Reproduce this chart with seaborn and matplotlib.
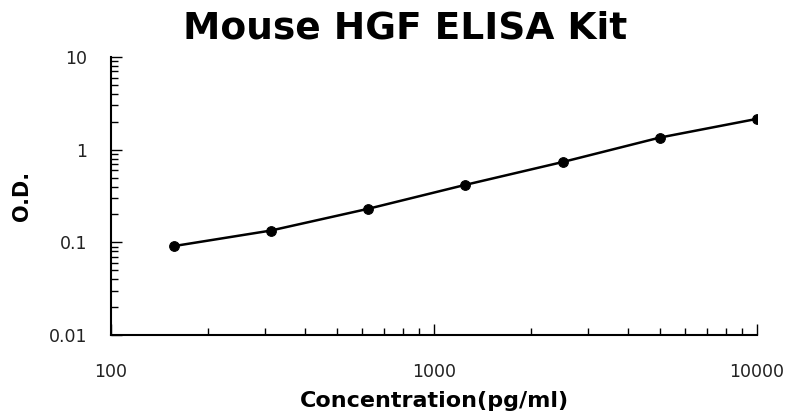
import numpy as np
import pandas as pd
import seaborn as sns
import matplotlib
matplotlib.use("Agg")
import matplotlib.pyplot as plt
from matplotlib.ticker import LogLocator, NullFormatter, FixedLocator, FixedFormatter


concentration = [156.25, 312.5, 625, 1250, 2500, 5000, 10000]
od = [0.091, 0.134, 0.230, 0.417, 0.735, 1.35, 2.15]

x_ticks = [100, 1000, 10000]
x_tick_labels = ['100', '1000', '10000']
y_ticks = [0.01, 0.1, 1, 10]
y_tick_labels = ['0.01', '0.1', '1', '10']

df = pd.DataFrame({'conc': concentration, 'od': od})

sns.set_theme(style="white")
plt.rcParams['font.family'] = ['DejaVu Sans']
plt.rcParams['text.color'] = 'black'
plt.rcParams['axes.labelcolor'] = 'black'

fig = plt.figure(figsize=(7.89, 4.11), dpi=100)
ax = fig.add_axes([111 / 789, 76 / 411, (757 - 111) / 789, (335 - 57) / 411])

sns.lineplot(data=df, x='conc', y='od', ax=ax, color='black', linewidth=1.8,
             marker='o', markersize=7, markeredgecolor='black')

ax.set_xscale('log')
ax.set_yscale('log')
ax.set_xlim(100, 10000)
ax.set_ylim(0.01, 10)

ax.xaxis.set_major_locator(FixedLocator(x_ticks))
ax.xaxis.set_major_formatter(FixedFormatter(x_tick_labels))
ax.yaxis.set_major_locator(FixedLocator(y_ticks))
ax.yaxis.set_major_formatter(FixedFormatter(y_tick_labels))
ax.xaxis.set_minor_locator(LogLocator(base=10, subs=np.arange(2, 10)))
ax.yaxis.set_minor_locator(LogLocator(base=10, subs=np.arange(2, 10)))
ax.xaxis.set_minor_formatter(NullFormatter())
ax.yaxis.set_minor_formatter(NullFormatter())

ax.tick_params(axis='both', which='major', direction='in', length=8, width=1,
               labelsize=12.5, colors='black')
ax.tick_params(axis='both', which='minor', direction='in', length=5, width=1,
               colors='black')
ax.tick_params(axis='x', which='both', bottom=True, pad=20)
ax.tick_params(axis='y', which='both', left=True, pad=17)
for lab in ax.get_xticklabels() + ax.get_yticklabels():
    lab.set_color('#222222')

for s in ['top', 'right']:
    ax.spines[s].set_visible(False)
for s in ['left', 'bottom']:
    ax.spines[s].set_color('black')
    ax.spines[s].set_linewidth(1.5)

ax.set_xlabel('Concentration(pg/ml)', fontsize=16, fontweight='bold', labelpad=7)
ax.set_ylabel('O.D.', fontsize=15, fontweight='bold', labelpad=12)
fig.text(0.513, 0.93, 'Mouse HGF ELISA Kit', ha='center', va='center',
         fontsize=27, fontweight='bold', color='black')

fig.savefig('out.png', dpi=100)
